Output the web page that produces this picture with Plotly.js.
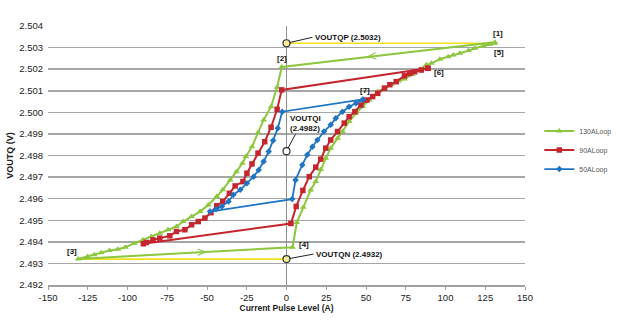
<!DOCTYPE html>
<html><head><meta charset="utf-8">
<script src="https://cdn.plot.ly/plotly-3.0.1.min.js"></script>
<style>html,body{margin:0;padding:0;background:#fff}#chart{width:620px;height:326px}</style>
</head><body><div id="chart"></div>
<script>
// ---- data ----
const loop130X = [131, -3, -5.9, -9.7, -14.4, -17.9, -21.7, -25.5, -27.7, -31.5, -35.4, -40.1, -43.9, -49.2, -54.4, -59.7, -65.0, -69.2, -74.5, -79.7, -85.0, -90.3, -95.6, -101.3, -106.1, -111.4, -116.6, -120.9, -125.1, -131, 3.8, 6.5, 10.6, 15.2, 18.4, 21.5, 24.7, 27.8, 32.1, 35.2, 39.4, 43.7, 47.9, 52.1, 57.4, 61.6, 66.0, 70.5, 74.2, 79.0, 84.0, 88.0, 91.1, 96.4, 101.7, 104.9, 109.1, 114.4, 118.5, 123.9, 128.0, 131.0];
const loop130Y = [2.50325, 2.50210, 2.50116, 2.50026, 2.49965, 2.49906, 2.49841, 2.49795, 2.49764, 2.49725, 2.49687, 2.49641, 2.49610, 2.49571, 2.49540, 2.49517, 2.49494, 2.49471, 2.49456, 2.49440, 2.49425, 2.49409, 2.49394, 2.49375, 2.49366, 2.49360, 2.49350, 2.49340, 2.49332, 2.49321, 2.49375, 2.49490, 2.49560, 2.49640, 2.49679, 2.49735, 2.49787, 2.49834, 2.49880, 2.49911, 2.49957, 2.49996, 2.50027, 2.50057, 2.50096, 2.50110, 2.50130, 2.50145, 2.50155, 2.50175, 2.50200, 2.50220, 2.50227, 2.50246, 2.50258, 2.50266, 2.50274, 2.50286, 2.50297, 2.50307, 2.50315, 2.50320];
const loop90X = [89.0, -3.0, -5.9, -9.7, -13.7, -17.9, -21.7, -24.9, -27.4, -32.3, -35.9, -40.1, -43.9, -47.5, -51.3, -55.5, -59.7, -63.9, -69.2, -73.4, -79.7, -84.0, -88.2, -90.0, 2.8, 6.1, 10.3, 14.3, 18.4, 21.5, 24.7, 27.8, 32.1, 36.3, 39.4, 43.0, 46.8, 50.6, 54.2, 57.4, 61.6, 65.0, 69.0, 74.2, 77.5, 80.6, 84.8, 89.0];
const loop90Y = [2.50204, 2.50104, 2.50014, 2.49931, 2.49864, 2.49811, 2.49761, 2.49718, 2.49679, 2.49659, 2.49625, 2.49587, 2.49567, 2.49535, 2.49510, 2.49494, 2.49479, 2.49456, 2.49448, 2.49428, 2.49417, 2.49409, 2.49397, 2.49391, 2.49485, 2.49564, 2.49638, 2.49702, 2.49746, 2.49783, 2.49834, 2.49872, 2.49911, 2.49950, 2.49980, 2.50003, 2.50034, 2.50057, 2.50073, 2.50088, 2.50112, 2.50128, 2.50142, 2.50169, 2.50180, 2.50188, 2.50196, 2.50204];
const loop50X = [48.0, -2.7, -5.5, -8.4, -11.2, -14.4, -17.5, -20.7, -24.9, -29.1, -33.4, -36.5, -40.7, -44.3, -48.1, 3.6, 5.7, 9.9, 13.1, 16.3, 19.4, 23.6, 27.8, 31.0, 35.2, 39.4, 43.7, 48.0];
const loop50Y = [2.50060, 2.50003, 2.49926, 2.49869, 2.49818, 2.49772, 2.49733, 2.49702, 2.49672, 2.49641, 2.49618, 2.49587, 2.49564, 2.49551, 2.49540, 2.49598, 2.49687, 2.49756, 2.49803, 2.49841, 2.49872, 2.49911, 2.49942, 2.49973, 2.50003, 2.50026, 2.50042, 2.50058];
const seriesNames = ['130ALoop', '90ALoop', '50ALoop'];
const refLabels = ['VOUTQP (2.5032)', 'VOUTQI<br>(2.4982)', 'VOUTQN (2.4932)'];
const refValues = [2.5032, 2.4982, 2.4932];
const yellowTopX = [0, 128];
const yellowTopY = [2.5032, 2.5032];
const yellowBotX = [-131, 0];
const yellowBotY = [2.4932, 2.4932];
const xTicks = [-150, -125, -100, -75, -50, -25, 0, 25, 50, 75, 100, 125, 150];
const yTicks = [2.492, 2.493, 2.494, 2.495, 2.496, 2.497, 2.498, 2.499, 2.500, 2.501, 2.502, 2.503, 2.504];
const pointLabels = ['[1]', '[2]', '[3]', '[4]', '[5]', '[6]', '[7]'];

// ---- styles ----
const FONT = 'Liberation Sans, Arial, sans-serif';
const GREEN = '#8dc63f', RED = '#c4262e', BLUE = '#1f74c4', YELLOW = '#f2e21a';

const traces = [
  {x: yellowTopX, y: yellowTopY, mode: 'lines', line: {color: YELLOW, width: 1.6}, showlegend: false, hoverinfo: 'skip'},
  {x: yellowBotX, y: yellowBotY, mode: 'lines', line: {color: YELLOW, width: 1.6}, showlegend: false, hoverinfo: 'skip'},
  {x: loop130X, y: loop130Y, name: seriesNames[0], mode: 'lines+markers',
   line: {color: GREEN, width: 2}, marker: {symbol: 'triangle-up', size: 6, color: GREEN}},
  {x: loop90X, y: loop90Y, name: seriesNames[1], mode: 'lines+markers',
   line: {color: RED, width: 2}, marker: {symbol: 'square', size: 5.5, color: RED}},
  {x: loop50X, y: loop50Y, name: seriesNames[2], mode: 'lines+markers',
   line: {color: BLUE, width: 1.8}, marker: {symbol: 'diamond', size: 5, color: BLUE}},
  {x: refValues.map(() => 0), y: refValues, mode: 'markers', showlegend: false, hoverinfo: 'skip',
   marker: {symbol: 'circle', size: 7, color: ['#f6ee9a', '#ffffff', '#f6ee9a'], line: {color: '#333', width: 1.2}}}
];

const lblFont = {family: FONT, size: 8, color: '#111', weight: 'bold'};
const ann = [];
function lab(text, x, y, xanchor, yanchor, xs, ys) {
  ann.push({x, y, text, showarrow: false, xanchor, yanchor, xshift: xs, yshift: ys, font: lblFont});
}
const i3 = 29, i4 = 30, i5 = loop130X.length - 1;
lab(pointLabels[0], loop130X[0], loop130Y[0], 'center', 'bottom', 3, 2);
lab(pointLabels[1], loop130X[1], loop130Y[1], 'center', 'bottom', 0, 2);
lab(pointLabels[2], loop130X[i3], loop130Y[i3], 'right', 'bottom', 1, 1);
lab(pointLabels[3], loop130X[i4], loop130Y[i4], 'left', 'middle', 4, 3);
lab(pointLabels[4], loop130X[i5], loop130Y[i5], 'center', 'top', 4, -3);
lab(pointLabels[5], loop90X[0], loop90Y[0], 'left', 'middle', 4, -4);
lab(pointLabels[6], loop50X[0], loop50Y[0], 'center', 'bottom', 2, 2);

// direction chevrons on the green loop's return lines
const t = 0.575;
ann.push({x: loop130X[0] + t * (loop130X[1] - loop130X[0]), y: loop130Y[0] + t * (loop130Y[1] - loop130Y[0]),
  text: '<', showarrow: false, textangle: -6, font: {family: FONT, size: 15, color: GREEN}, yshift: 1});
ann.push({x: loop130X[i3] + t * (loop130X[i4] - loop130X[i3]), y: loop130Y[i3] + t * (loop130Y[i4] - loop130Y[i3]),
  text: '>', showarrow: false, textangle: -3, font: {family: FONT, size: 15, color: GREEN}, yshift: 1});

// reference callouts
ann.push({x: 0, y: refValues[0], text: refLabels[0], showarrow: true, arrowhead: 0, arrowwidth: 1, arrowcolor: '#222',
  ax: 26, ay: -6, xanchor: 'left', yanchor: 'middle', standoff: 3, font: lblFont});
ann.push({x: 0, y: refValues[2], text: refLabels[2], showarrow: true, arrowhead: 0, arrowwidth: 1, arrowcolor: '#222',
  ax: 27, ay: -5, xanchor: 'left', yanchor: 'middle', standoff: 3, font: lblFont});
ann.push({x: 0, y: refValues[1], text: refLabels[1], showarrow: false, xanchor: 'left', yanchor: 'bottom',
  xshift: 1, yshift: 16, align: 'left', font: lblFont});

const shapes = [{type: 'line', xref: 'x', yref: 'y', xsizemode: 'pixel', ysizemode: 'pixel',
  xanchor: 0, yanchor: refValues[1], x0: 1.5, y0: 3, x1: 9, y1: 17, line: {color: '#222', width: 1}}];

const layout = {
  width: 620, height: 326,
  margin: {l: 48, r: 95, t: 26, b: 41, autoexpand: false},
  paper_bgcolor: '#fff', plot_bgcolor: '#fff',
  font: {family: FONT, size: 9.5, color: '#222'},
  showlegend: true,
  legend: {x: 1.03, xanchor: 'left', y: 0.521, yanchor: 'middle', font: {family: FONT, size: 7, color: '#555'},
    bgcolor: 'rgba(0,0,0,0)', itemwidth: 30},
  xaxis: {range: [-150, 150], tickvals: xTicks, ticktext: xTicks.map(String), showgrid: false,
    zeroline: true, zerolinecolor: '#8f8f8f', zerolinewidth: 1.6,
    showline: true, linecolor: '#a0a0a0', linewidth: 1.5, ticks: 'outside', ticklen: 3, tickcolor: '#a0a0a0',
    tickfont: {family: FONT, size: 9.5, color: '#222'},
    title: {text: 'Current Pulse Level (A)', font: {family: FONT, size: 8.5, color: '#222', weight: 'bold'}, standoff: 3}},
  yaxis: {range: [2.492, 2.504], tickvals: yTicks, ticktext: yTicks.map(v => v.toFixed(3)),
    showgrid: true, gridcolor: '#a6a6a6', gridwidth: 1.5, zeroline: false, ticks: '', ticklabelstandoff: 4,
    tickfont: {family: FONT, size: 9.5, color: '#222'},
    title: {text: 'VOUTQ (V)', font: {family: FONT, size: 9, color: '#222', weight: 'bold'}, standoff: 4}},
  annotations: ann,
  shapes: shapes
};

Plotly.newPlot('chart', traces, layout, {displayModeBar: false, staticPlot: true});
</script>
</body></html>
